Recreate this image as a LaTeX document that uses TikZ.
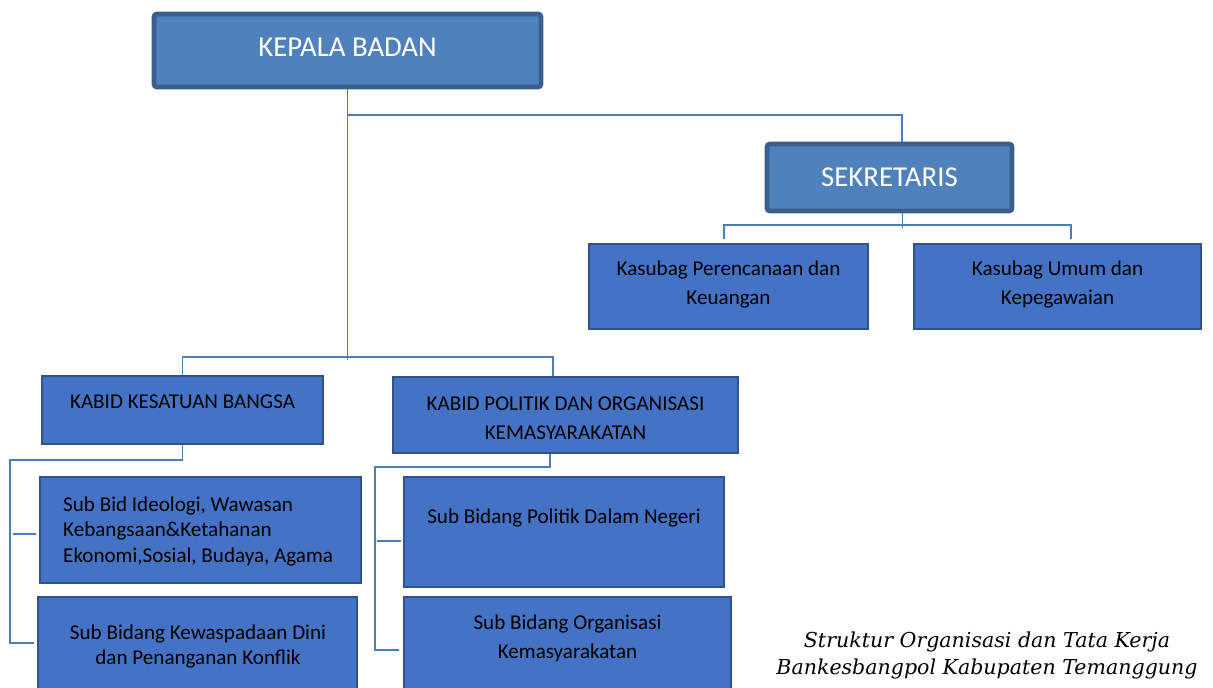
\documentclass[tikz,border=0pt]{standalone}
\usepackage{fontspec}
\setmainfont{Carlito}
\newfontfamily\capfont{DejaVu Serif}
\definecolor{headfill}{HTML}{4F81BD}
\definecolor{headline}{HTML}{3A5F8B}
\definecolor{unitfill}{HTML}{4472C4}
\definecolor{unitline}{HTML}{2F528F}
\definecolor{linkcol}{HTML}{4A7EBB}
\tikzset{
  headbox/.style={draw=headline,fill=headfill,line width=2.6pt,rounded corners=1.5pt},
  unitbox/.style={draw=unitline,fill=unitfill,line width=1.2pt},
  headtxt/.style={text=white,font=\fontsize{16.4}{20}\selectfont},
  unittxt/.style={text=black,align=center,font=\fontsize{12}{16.2}\selectfont},
  link/.style={draw=linkcol,line width=1pt}
}
\begin{document}
\begin{tikzpicture}
  \useasboundingbox (0,0) rectangle (24.26,-13.74);
  \clip (0,0) rectangle (24.26,-13.74);
  \node[headbox,minimum width=7.74cm,minimum height=1.46cm] (kepala) at (6.95,-1.01) {};
  \node[headtxt] (t-kepala) at (6.95,-0.95) {KEPALA BADAN};
  \node[headbox,minimum width=4.90cm,minimum height=1.34cm] (sek) at (17.79,-3.55) {};
  \node[headtxt] (t-sek) at (17.79,-3.55) {SEKRETARIS};
  \node[unitbox,minimum width=5.58cm,minimum height=1.70cm] (kpk) at (14.57,-5.73) {};
  \node[unittxt] (t-kpk) at (14.57,-5.69) {Kasubag Perencanaan dan\\Keuangan};
  \node[unitbox,minimum width=5.74cm,minimum height=1.70cm] (kuk) at (21.15,-5.73) {};
  \node[unittxt] (t-kuk) at (21.15,-5.69) {Kasubag Umum dan\\Kepegawaian};
  \node[unitbox,minimum width=5.62cm,minimum height=1.36cm] (kkb) at (3.65,-8.20) {};
  \node[unittxt] (t-kkb) at (3.65,-8.04) {KABID KESATUAN BANGSA};
  \node[unitbox,minimum width=6.90cm,minimum height=1.52cm] (kpo) at (11.31,-8.30) {};
  \node[unittxt] (t-kpo) at (11.31,-8.36) {KABID POLITIK DAN ORGANISASI\\KEMASYARAKATAN};
  \node[unitbox,minimum width=6.42cm,minimum height=2.12cm] (sid) at (4.01,-10.60) {};
  \node[unittxt,align=left,anchor=west,font=\fontsize{12}{14.5}\selectfont] (t-sid) at (1.14,-10.62)
    {Sub Bid Ideologi, Wawasan\\Kebangsaan\&Ketahanan\\Ekonomi,Sosial, Budaya, Agama};
  \node[unitbox,minimum width=6.38cm,minimum height=2.06cm] (swd) at (3.95,-12.97) {};
  \node[unittxt,font=\fontsize{12}{14.5}\selectfont] (t-swd) at (3.96,-12.93) {Sub Bidang Kewaspadaan Dini\\dan Penanganan Konflik};
  \node[unitbox,minimum width=6.40cm,minimum height=2.20cm] (spd) at (11.28,-10.64) {};
  \node[unittxt] (t-spd) at (11.28,-10.36) {Sub Bidang Politik Dalam Negeri};
  \node[unitbox,minimum width=6.54cm,minimum height=2.06cm] (sok) at (11.35,-12.97) {};
  \node[unittxt] (t-sok) at (11.35,-12.77) {Sub Bidang Organisasi\\Kemasyarakatan};
  \draw[link] (kepala.south) -- ++(0,-0.52) -| ([xshift=0.25cm]sek.north);
  \draw[link] (kepala.south) -- ++(0,-5.42);
  \draw[link] (kkb.north) -- ++(0,0.36) -| ([xshift=-0.25cm]kpo.north);
  \draw[link] ([xshift=0.26cm]sek.south) -- ++(0,-0.30);
  \draw[link] ([xshift=-0.09cm,yshift=0.08cm]kpk.north) -- ++(0,0.28) -| ([xshift=0.27cm,yshift=0.08cm]kuk.north);
  \draw[link] (kkb.south) |- (0.2,-9.2) |- ([xshift=-0.06cm,yshift=0.11cm]swd.west);
  \draw[link] ([xshift=-0.06cm,yshift=-0.08cm]sid.west) -- ++(-0.46,0);
  \draw[link] ([xshift=-0.31cm]kpo.south) |- (7.5,-9.34) |- ([xshift=-0.08cm,yshift=-0.03cm]sok.west);
  \draw[link] ([xshift=-0.04cm,yshift=-0.18cm]spd.west) -- ++(-0.48,0);
  \node[align=center,font=\capfont\itshape\fontsize{11.7}{15.3}\selectfont] (caption) at (19.74,-13.11)
    {Struktur Organisasi dan Tata Kerja\\Bankesbangpol Kabupaten Temanggung};
\end{tikzpicture}
\end{document}
